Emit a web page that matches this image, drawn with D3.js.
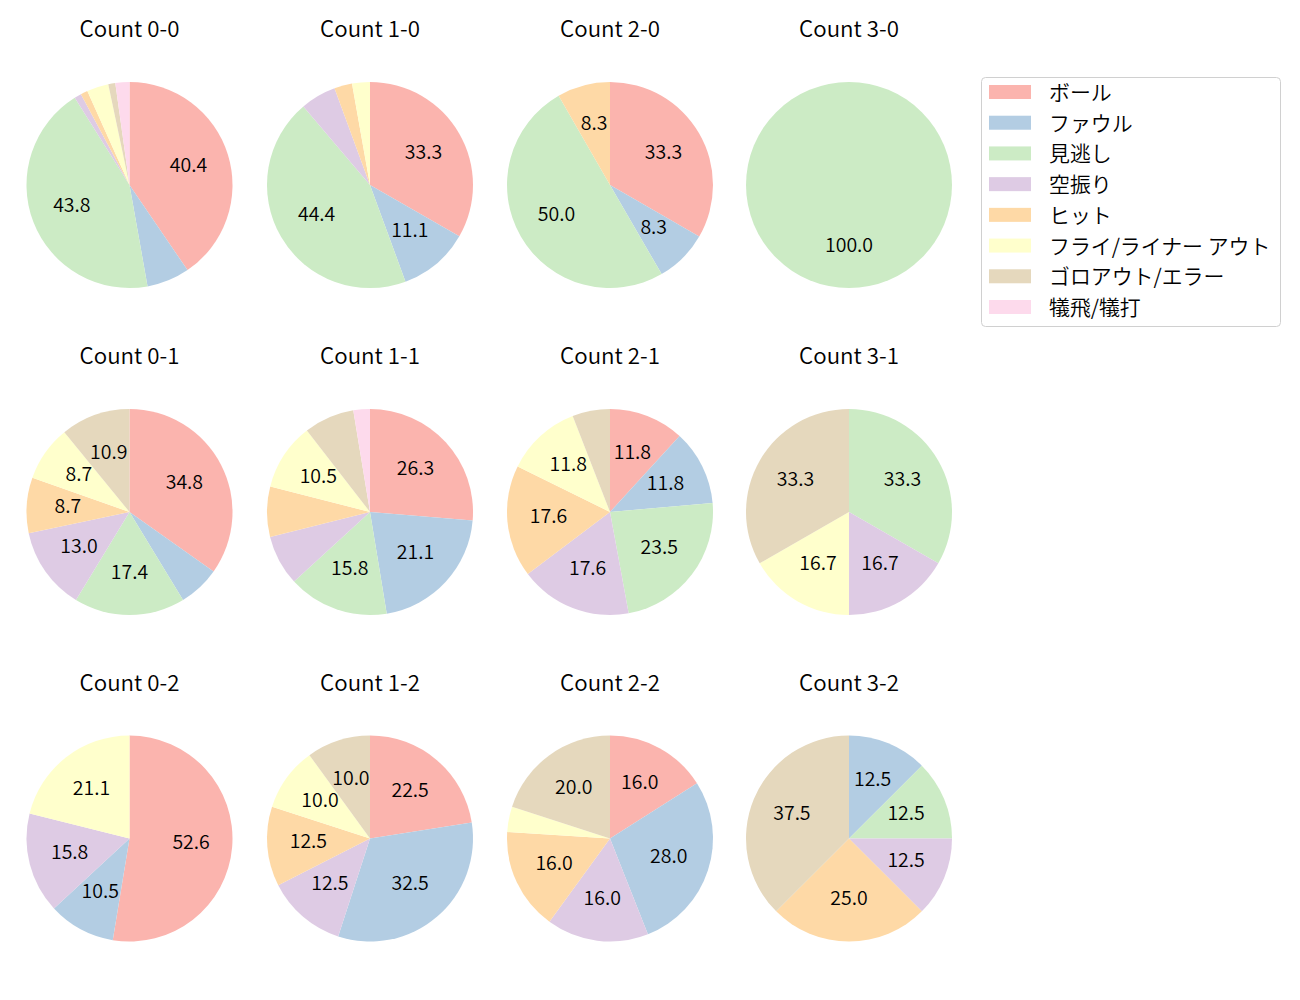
<!DOCTYPE html>
<html><head><meta charset="utf-8">
<script src="https://cdn.jsdelivr.net/npm/d3@7"></script>
<style>body{margin:0;background:#fff;} text{font-family:"Noto Sans CJK JP","Noto Sans",sans-serif;font-weight:350;}</style>
</head><body>
<svg id="c" width="1300" height="1000"></svg>
<script>
const categories = ["ボール","ファウル","見逃し","空振り","ヒット","フライ/ライナー アウト","ゴロアウト/エラー","犠飛/犠打"];
const colors = ["#fbb4ae","#b3cde3","#ccebc5","#decbe4","#fed9a6","#ffffcc","#e5d8bd","#fddaec"];
const counts = ["0-0","1-0","2-0","3-0","0-1","1-1","2-1","3-1","0-2","1-2","2-2","3-2"];
const ball   = [40.4,33.3,33.3,0, 34.8,26.3,11.8,0, 52.6,22.5,16.0,0];
const foul   = [6.7,11.1,8.3,0, 6.5,21.1,11.8,0, 10.5,32.5,28.0,12.5];
const looking= [43.8,44.4,50.0,100, 17.4,15.8,23.5,33.3, 0,0,0,12.5];
const swing  = [1.1,5.6,0,0, 13.0,7.9,17.6,16.7, 15.8,12.5,16.0,12.5];
const hit    = [1.1,2.8,8.3,0, 8.7,7.9,17.6,0, 0,12.5,16.0,25.0];
const fly    = [3.4,2.8,0,0, 8.7,10.5,11.8,16.7, 21.1,10.0,4.0,0];
const ground = [1.1,0,0,0, 10.9,7.9,5.9,33.3, 0,10.0,20.0,37.5];
const sac    = [2.2,0,0,0, 0,2.6,0,0, 0,0,0,0];
const series = [ball,foul,looking,swing,hit,fly,ground,sac];

const svg = d3.select("#c");
const colX = d3.scaleOrdinal().domain([0,1,2,3]).range([129.5,370,610,849]);
const rowY = d3.scaleOrdinal().domain([0,1,2]).range([185,512,838.5]);
const R = 103;
const color = d3.scaleOrdinal().domain(categories).range(colors);
const pie = d3.pie().sort(null).value(d => d.v);
const arc = d3.arc().innerRadius(0).outerRadius(R);
const labelArc = d3.arc().innerRadius(R*0.6).outerRadius(R*0.6);
const TITLE = 22.3, LABEL = 19.5, LEG = 20.9;

counts.forEach((cnt, i) => {
  const col = i % 4, row = Math.floor(i / 4);
  const cx = colX(col), cy = rowY(row);
  const data = categories.map((c, k) => ({c, v: series[k][i]})).filter(d => d.v > 0);
  const g = svg.append("g").attr("transform", `translate(${cx},${cy})`);
  const arcs = pie(data);
  g.selectAll("path").data(arcs).join("path").attr("d", arc).attr("fill", d => color(d.data.c));
  g.selectAll("text.l").data(arcs.filter(d => d.data.v >= 8)).join("text")
    .attr("class","l")
    .attr("transform", d => { const p = labelArc.centroid(d); return `translate(${p[0]},${p[1]-3.5})`; })
    .attr("text-anchor","middle").attr("dominant-baseline","central")
    .attr("font-size", LABEL).attr("fill","#000")
    .text(d => d.data.v.toFixed(1));
  svg.append("text").attr("class","t").attr("x", cx).attr("y", cy - 158)
    .attr("text-anchor","middle").attr("dominant-baseline","central")
    .attr("font-size", TITLE).attr("fill","#000").text("Count " + cnt);
});

// legend
const lg = svg.append("g");
lg.append("rect").attr("x",981.5).attr("y",77.5).attr("width",299).attr("height",249)
  .attr("rx",4).attr("fill","#fff").attr("stroke","#d0d0d0");
const ly = d3.scaleLinear().domain([0,7]).range([92,307]);
categories.forEach((c,k) => {
  lg.append("rect").attr("x",989).attr("y",ly(k)-7).attr("width",42).attr("height",14).attr("fill",colors[k]);
  lg.append("text").attr("class","lt").attr("x",1049).attr("y",ly(k)-1).attr("dominant-baseline","central")
    .attr("font-size",LEG).attr("fill","#000").text(c);
});
</script>
</body></html>
